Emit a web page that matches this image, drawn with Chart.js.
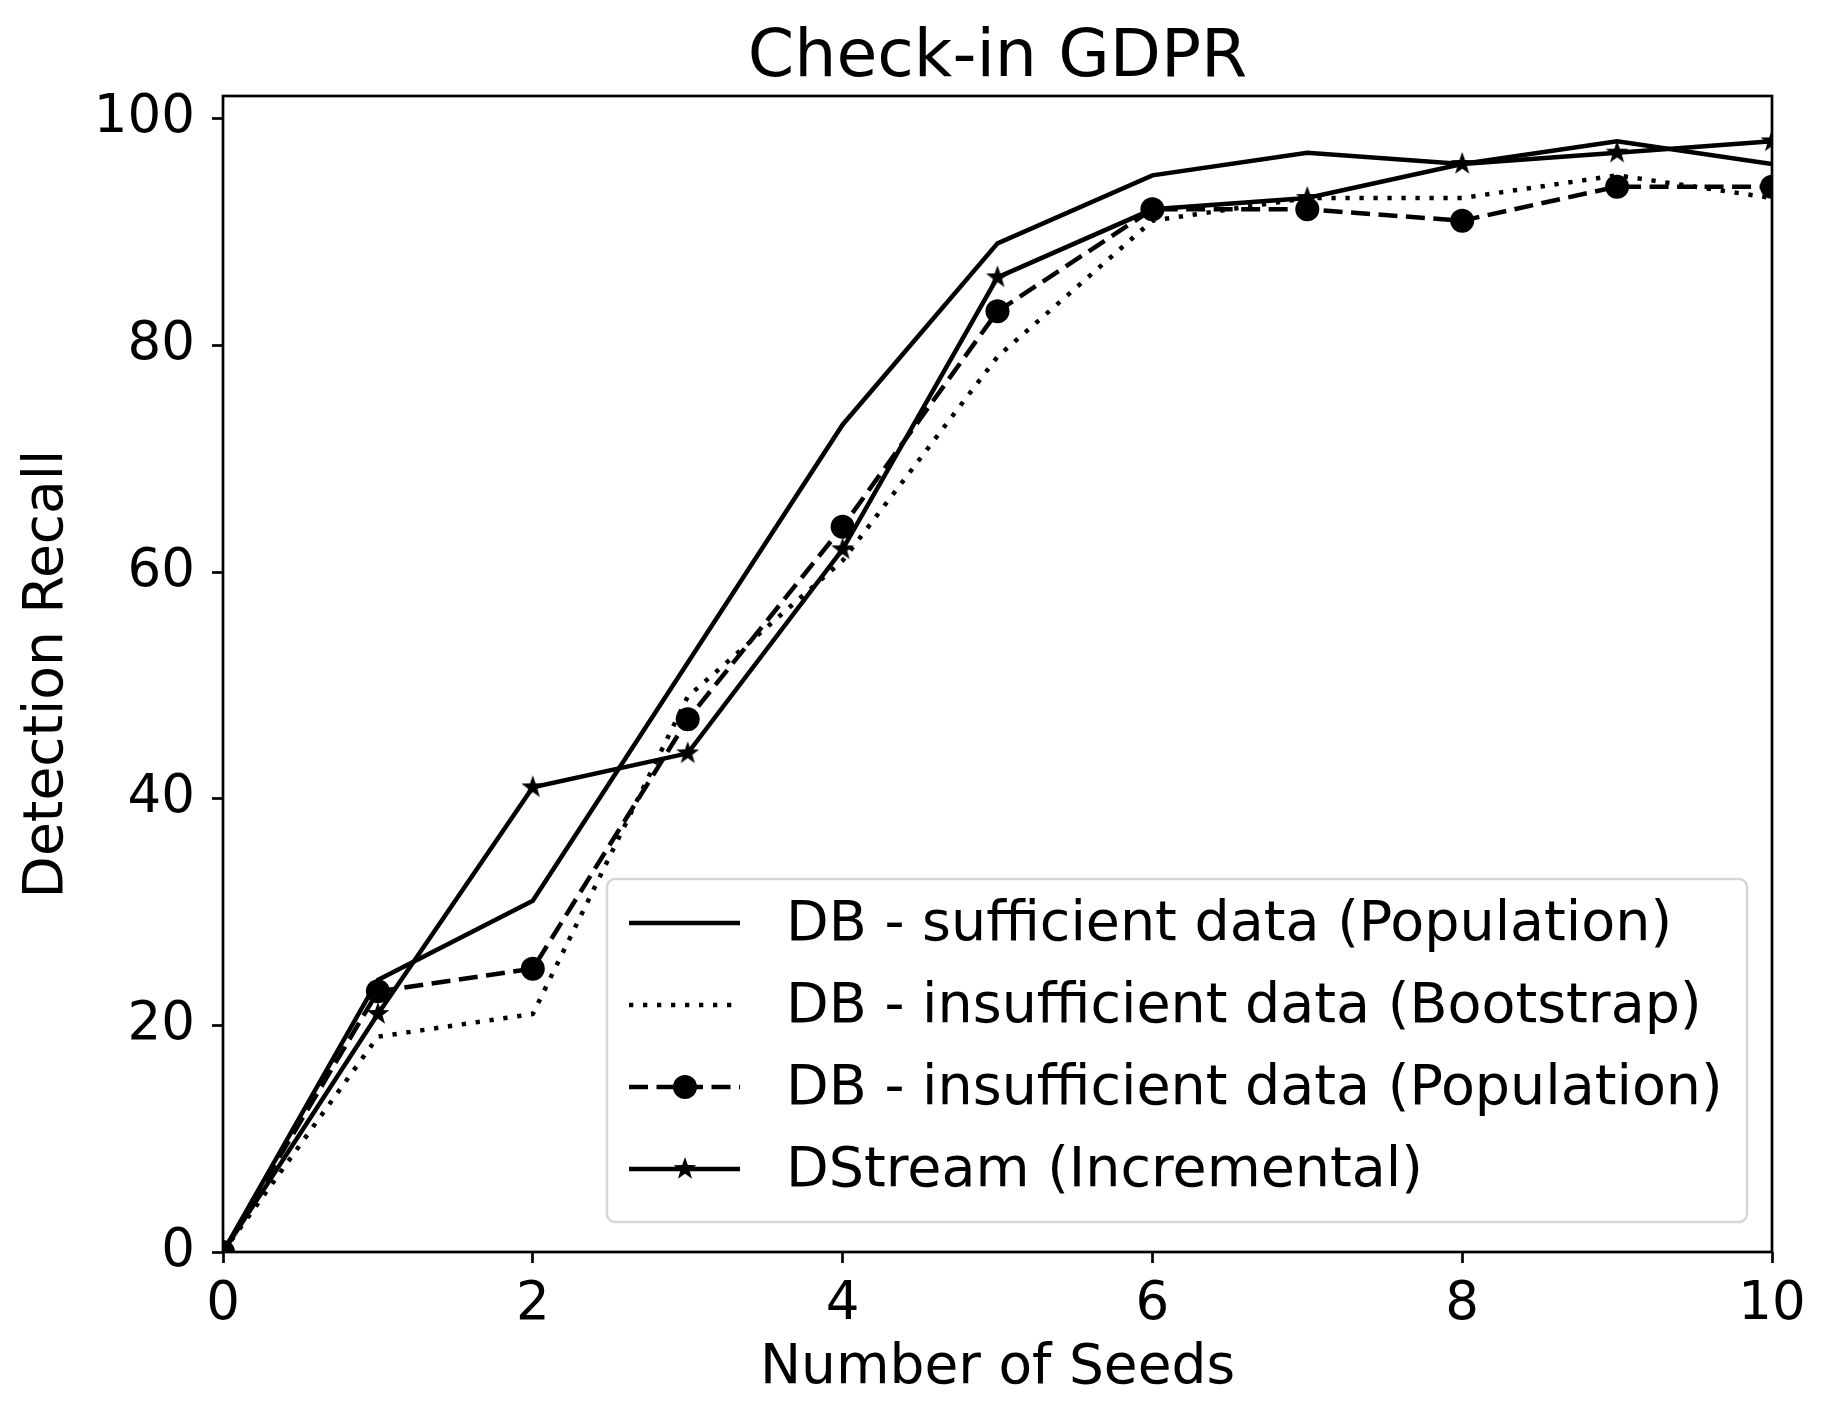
<!DOCTYPE html>
<html>
<head>
    <title>Check-in GDPR</title>
    <style>
        body {
            margin: 0;
            padding: 0;
            background-color: #ffffff;
        }
        #myChart {
            display: block;
        }
    </style>
    <script src="https://cdn.jsdelivr.net/npm/chart.js"></script>
</head>
<body>
<canvas id="myChart" width="1833" height="1422"></canvas>
<script>
    // Veriler
    const seeds = [0, 1, 2, 3, 4, 5, 6, 7, 8, 9, 10];
    const sufficientPop = [0, 24, 31, 52, 73, 89, 95, 97, 96, 98, 96];
    const insufficientBoot = [0, 19, 21, 49, 61, 79, 91, 93, 93, 95, 93];
    const insufficientPop = [0, 23, 25, 47, 64, 83, 92, 92, 91, 94, 94];
    const dstream = [0, 21, 41, 44, 62, 86, 92, 93, 96, 97, 98];
    const seriesLabels = [
        'DB - sufficient data (Population)',
        'DB - insufficient data (Bootstrap)',
        'DB - insufficient data (Population)',
        'DStream (Incremental)'
    ];
    const xTicks = [0, 2, 4, 6, 8, 10];
    const yTicks = [0, 20, 40, 60, 80, 100];
    const chartTitle = 'Check-in GDPR';

    const FONT = 'DejaVu Sans';
    const LW = 4.5;

    // Yıldız işareti için küçük bir resim
    function makeStar(r) {
        const c = document.createElement('canvas');
        const s = Math.ceil(r * 2 + 2);
        c.width = s; c.height = s;
        const g = c.getContext('2d');
        g.fillStyle = '#000';
        g.beginPath();
        for (let i = 0; i < 10; i++) {
            const rad = (i % 2 === 0) ? r : r * 0.4;
            const a = -Math.PI / 2 + i * Math.PI / 5;
            const px = s / 2 + rad * Math.cos(a);
            const py = s / 2 + rad * Math.sin(a);
            if (i === 0) g.moveTo(px, py); else g.lineTo(px, py);
        }
        g.closePath();
        g.fill();
        return c;
    }
    const starImg = makeStar(12);

    function toPoints(arr) {
        return seeds.map((x, i) => ({ x: x, y: arr[i] }));
    }

    // Başlık, çerçeve ve lejant
    const framePlugin = {
        id: 'frameAndLegend',
        afterDraw(chart) {
            const ctx = chart.ctx;
            const a = chart.chartArea;
            ctx.save();

            // başlık (eksenlerin ortasına)
            ctx.fillStyle = '#000';
            ctx.font = '66.5px "' + FONT + '"';
            ctx.textAlign = 'center';
            ctx.textBaseline = 'alphabetic';
            ctx.fillText(chartTitle, (a.left + a.right) / 2, 76);

            ctx.strokeStyle = '#000';
            ctx.lineWidth = 2.7;
            ctx.strokeRect(a.left, a.top, a.right - a.left, a.bottom - a.top);

            // lejant kutusu
            const bx = 607, by = 879, bw = 1140, bh = 343, br = 8;
            ctx.beginPath();
            ctx.roundRect(bx, by, bw, bh, br);
            ctx.fillStyle = 'rgba(255,255,255,0.8)';
            ctx.fill();
            ctx.strokeStyle = 'rgba(204,204,204,0.8)';
            ctx.lineWidth = 2.5;
            ctx.stroke();

            const rows = [923, 1005, 1087, 1169];
            chart.data.datasets.forEach((ds, i) => {
                const y = rows[i];
                ctx.beginPath();
                ctx.setLineDash(ds.borderDash || []);
                ctx.lineWidth = ds.borderWidth;
                ctx.strokeStyle = '#000';
                ctx.moveTo(629, y);
                ctx.lineTo(740, y);
                ctx.stroke();
                ctx.setLineDash([]);
                if (ds.pointRadius > 0) {
                    if (ds.pointStyle === 'circle') {
                        ctx.beginPath();
                        ctx.arc(685, y, ds.pointRadius, 0, Math.PI * 2);
                        ctx.fillStyle = '#000';
                        ctx.fill();
                    } else {
                        ctx.drawImage(ds.pointStyle, 685 - ds.pointStyle.width / 2, y - ds.pointStyle.height / 2);
                    }
                }
                ctx.fillStyle = '#000';
                ctx.font = '55.5px "' + FONT + '"';
                ctx.textAlign = 'left';
                ctx.textBaseline = 'middle';
                ctx.fillText(ds.label, 786, y + 3);
            });
            ctx.restore();
        }
    };

    const ctx = document.getElementById('myChart').getContext('2d');
    const myChart = new Chart(ctx, {
        type: 'line',
        data: {
            datasets: [{
                label: seriesLabels[0],
                data: toPoints(sufficientPop),
                borderColor: '#000',
                borderWidth: LW,
                pointRadius: 0,
                order: 4
            }, {
                label: seriesLabels[1],
                data: toPoints(insufficientBoot),
                borderColor: '#000',
                borderWidth: LW,
                borderDash: [4.3, 9.7],
                pointRadius: 0,
                order: 3
            }, {
                label: seriesLabels[2],
                data: toPoints(insufficientPop),
                borderColor: '#000',
                borderWidth: LW,
                borderDash: [19, 8.5],
                pointStyle: 'circle',
                pointRadius: 12,
                pointBackgroundColor: '#000',
                pointBorderWidth: 0,
                order: 2
            }, {
                label: seriesLabels[3],
                data: toPoints(dstream),
                borderColor: '#000',
                borderWidth: LW,
                pointStyle: starImg,
                pointRadius: 12,
                order: 1
            }]
        },
        options: {
            responsive: false,
            animation: false,
            events: [],
            layout: { padding: { left: 0, right: 61, top: 96, bottom: 0 } },
            elements: { line: { tension: 0, fill: false } },
            scales: {
                x: {
                    type: 'linear',
                    min: 0,
                    max: 10,
                    afterFit(scale) { scale.height = 170; },
                    afterBuildTicks(scale) { scale.ticks = xTicks.map(v => ({ value: v })); },
                    border: { display: false },
                    grid: { drawOnChartArea: false, drawTicks: true, tickLength: 11, tickWidth: 2.7, tickColor: '#000' },
                    ticks: { color: '#000', padding: 10, font: { family: FONT, size: 53 } },
                    title: {
                        display: true,
                        text: 'Number of Seeds',
                        color: '#000',
                        font: { family: FONT, size: 55 },
                        padding: { top: 0, bottom: 20 }
                    }
                },
                y: {
                    min: 0,
                    max: 102,
                    afterFit(scale) { scale.width = 223; },
                    afterBuildTicks(scale) { scale.ticks = yTicks.map(v => ({ value: v })); },
                    border: { display: false },
                    grid: { drawOnChartArea: false, drawTicks: true, tickLength: 11, tickWidth: 2.7, tickColor: '#000' },
                    ticks: { color: '#000', padding: 17, font: { family: FONT, size: 53 } },
                    title: {
                        display: true,
                        text: 'Detection Recall',
                        color: '#000',
                        font: { family: FONT, size: 55 },
                        padding: { top: 15, bottom: 0 }
                    }
                }
            },
            plugins: {
                legend: { display: false },
                tooltip: { enabled: false },
                title: { display: false }
            }
        },
        plugins: [framePlugin]
    });
</script>
</body>
</html>
